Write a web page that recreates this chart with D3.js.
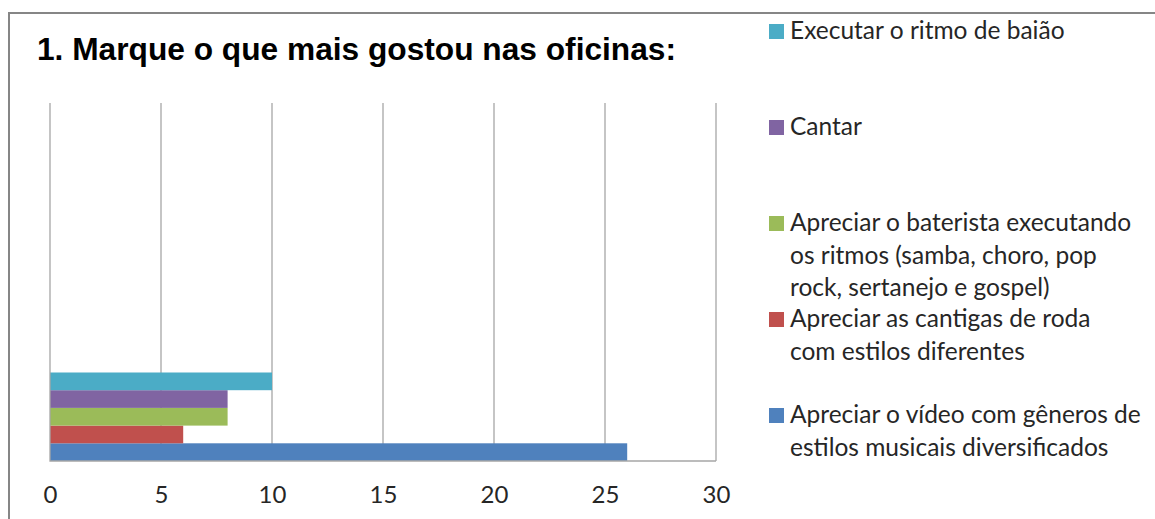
<!DOCTYPE html>
<html lang="pt">
<head>
  <meta charset="UTF-8" />
  <title>1. Marque o que mais gostou nas oficinas</title>
  <script src="https://d3js.org/d3.v7.min.js"></script>
  <style>
    body { margin: 0; padding: 0; background: #fff; }
    svg { display: block; }
    .title { font-family: "Liberation Sans", Arial, sans-serif; font-weight: bold; fill: #000; }
    .legend text, .axis text { font-family: Lato, "Open Sans", sans-serif; fill: #262626; }
  </style>
</head>
<body>
  <div id="chart"></div>

  <script>
    // data
    const seriesNames = [
      "Apreciar o vídeo com gêneros de estilos musicais diversificados",
      "Apreciar as cantigas de roda com estilos diferentes",
      "Apreciar o baterista executando os ritmos (samba, choro, pop rock, sertanejo e gospel)",
      "Cantar",
      "Executar o ritmo de baião"
    ];
    const seriesValues = [26, 6, 8, 8, 10];
    const seriesColors = ["#4F81BD", "#C0504D", "#9BBB59", "#8064A2", "#4BACC6"];
    const legendLines = [
      ["Apreciar o vídeo com gêneros de", "estilos musicais diversificados"],
      ["Apreciar as cantigas de roda", "com estilos diferentes"],
      ["Apreciar o baterista executando", "os ritmos (samba, choro, pop", "rock, sertanejo e gospel)"],
      ["Cantar"],
      ["Executar o ritmo de baião"]
    ];
    const xTicks = [0, 5, 10, 15, 20, 25, 30];
    const titleText = "1. Marque o que mais gostou nas oficinas:";

    const width = 1155, height = 519;
    const plot = { left: 50, right: 716, top: 103, bottom: 461 };
    const barH = 17.7;

    const svg = d3.select("#chart").append("svg")
      .attr("width", width)
      .attr("height", height);

    // outer frame (runs off the right and bottom edges)
    svg.append("path")
      .attr("d", `M${width + 5},13 H9 V${height + 5}`)
      .attr("fill", "none")
      .attr("stroke", "#868686")
      .attr("stroke-width", 2);

    svg.append("text")
      .attr("class", "title")
      .attr("x", 37)
      .attr("y", 60)
      .attr("textLength", 639)
      .attr("lengthAdjust", "spacingAndGlyphs")
      .style("font-size", "32px")
      .text(titleText);

    const x = d3.scaleLinear().domain([0, 30]).range([plot.left, plot.right]);

    const idx = d3.range(seriesNames.length);
    const y = d3.scaleBand()
      .domain(idx.slice().reverse())
      .range([plot.bottom - barH * idx.length, plot.bottom])
      .padding(0);

    // gridlines
    svg.append("g")
      .selectAll("line")
      .data(xTicks.filter(d => d > 0))
      .join("line")
      .attr("x1", d => x(d)).attr("x2", d => x(d))
      .attr("y1", plot.top).attr("y2", plot.bottom)
      .attr("stroke", "#A6A6A6")
      .attr("stroke-width", 1.3);

    // bars
    svg.append("g")
      .selectAll("rect")
      .data(idx)
      .join("rect")
      .attr("x", x(0))
      .attr("y", i => y(i))
      .attr("width", i => x(seriesValues[i]) - x(0))
      .attr("height", y.bandwidth())
      .attr("fill", i => seriesColors[i]);

    // axes lines
    svg.append("path")
      .attr("d", `M${x(0)},${plot.top} V${plot.bottom} H${x(30)}`)
      .attr("fill", "none")
      .attr("stroke", "#A6A6A6")
      .attr("stroke-width", 1.3);

    const axis = d3.axisBottom(x).tickValues(xTicks).tickSize(0).tickPadding(0);
    const gx = svg.append("g")
      .attr("class", "axis")
      .attr("transform", `translate(0,${plot.bottom})`)
      .call(axis);
    gx.select(".domain").remove();
    gx.selectAll("text")
      .attr("dy", null)
      .attr("y", 42)
      .style("font-size", "24px");

    // legend
    const ly = d3.scalePoint().domain(idx.slice().reverse()).range([39, 423]);
    const lg = svg.append("g").attr("class", "legend");
    const item = lg.selectAll("g")
      .data(idx)
      .join("g")
      .attr("transform", i => `translate(769,${ly(i)})`);

    item.append("rect")
      .attr("x", 0)
      .attr("y", -15)
      .attr("width", 15)
      .attr("height", 15)
      .attr("fill", i => seriesColors[i]);

    item.append("text")
      .attr("x", 21)
      .style("font-size", "24.5px")
      .selectAll("tspan")
      .data(i => legendLines[i])
      .join("tspan")
      .attr("x", 21)
      .attr("y", (d, k) => k * 32.5)
      .text(d => d);
  </script>
</body>
</html>
